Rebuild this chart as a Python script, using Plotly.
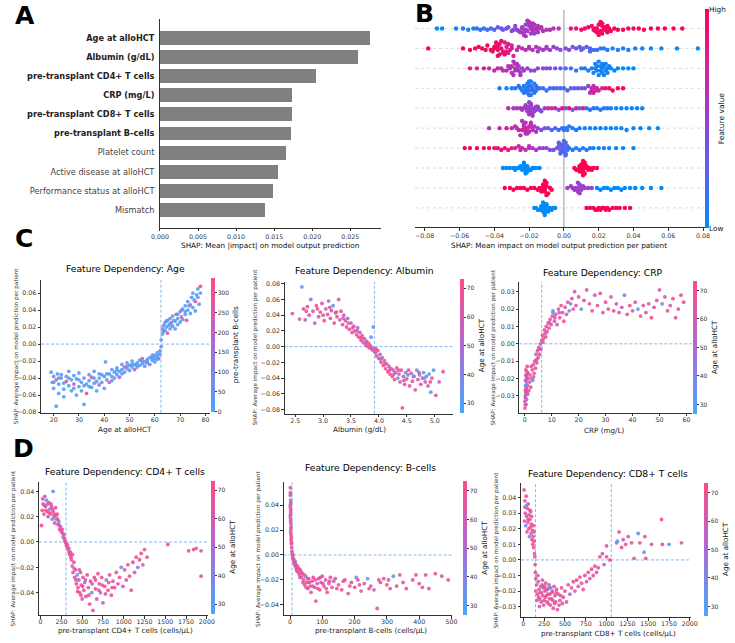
import numpy as np
import plotly.graph_objects as go

# ---------------- DATA ----------------
FEATURES = ["Age at alloHCT", "Albumin (g/dL)", "pre-transplant CD4+ T cells", "CRP (mg/L)",
            "pre-transplant CD8+ T cells", "pre-transplant B-cells", "Platelet count",
            "Active disease at alloHCT", "Performance status at alloHCT", "Mismatch"]
BOLD = [True, True, True, True, True, True, False, False, False, False]
MEAN_ABS_SHAP = [0.0276, 0.0260, 0.0205, 0.0174, 0.0173, 0.0172, 0.0166, 0.0155, 0.0149, 0.0138]

# beeswarm (shap value, normalised feature value)
SW_AGE = [(-0.073,0.02),(-0.070,0.03),(-0.062,0.05),(-0.058,0.08),(-0.055,0.05),(-0.052,0.1),(-0.050,0.12),(-0.048,0.15),(-0.046,0.1),(-0.044,0.2),(-0.042,0.25),(-0.040,0.18),(-0.038,0.3),(-0.036,0.35),(-0.035,0.25),(-0.033,0.4),(-0.032,0.3),(-0.030,0.45),(-0.029,0.4),(-0.028,0.5),(-0.027,0.45),(-0.026,0.5),(-0.025,0.55),(-0.024,0.5),(-0.023,0.6),(-0.022,0.55),(-0.022,0.45),(-0.021,0.6),(-0.020,0.55),(-0.020,0.65),(-0.019,0.6),(-0.019,0.5),(-0.018,0.62),(-0.018,0.55),(-0.017,0.6),(-0.016,0.58),(-0.015,0.6),(-0.014,0.55),(-0.013,0.62),(-0.012,0.6),(-0.010,0.58),(-0.008,0.6),(-0.006,0.62),(-0.003,0.6),
          (0.004,0.85),(0.007,0.88),(0.010,0.9),(0.012,0.9),(0.014,0.92),(0.016,0.9),(0.017,0.93),(0.018,0.92),(0.019,0.95),(0.020,0.93),(0.021,0.95),(0.022,0.94),(0.022,0.96),(0.023,0.95),(0.024,0.96),(0.025,0.95),(0.026,0.97),(0.027,0.96),(0.029,0.97),(0.031,0.97),(0.034,0.98),(0.037,0.98),(0.040,0.98),(0.043,0.99),(0.046,0.99),(0.050,0.99),(0.054,1.0),(0.058,1.0),(0.063,1.0),(0.068,1.0),
          (-0.024,0.55),(-0.023,0.5),(-0.022,0.6),(-0.021,0.55),(-0.020,0.6),(-0.019,0.55),(-0.018,0.6),(-0.017,0.5),(-0.016,0.62),(-0.015,0.55),(0.018,0.95),(0.019,0.93),(0.020,0.96),(0.021,0.94),(0.022,0.95),(0.023,0.97),(0.024,0.94),(0.025,0.96)]
SW_ALB = [(-0.078,1.0),(-0.058,1.0),(-0.054,0.98),(-0.051,0.98),(-0.049,0.97),(-0.047,0.97),(-0.045,0.96),(-0.044,0.95),(-0.042,0.95),(-0.041,0.93),(-0.040,0.92),(-0.039,0.93),(-0.038,0.9),(-0.038,0.92),(-0.037,0.9),(-0.036,0.88),(-0.035,0.85),(-0.034,0.86),(-0.033,0.8),(-0.032,0.82),(-0.031,0.78),(-0.030,0.75),(-0.029,0.72),(-0.027,0.7),(-0.026,0.68),(-0.024,0.65),(-0.022,0.62),(-0.020,0.6),(-0.018,0.6),(-0.016,0.58),(-0.014,0.55),(-0.012,0.55),(-0.010,0.52),(-0.008,0.5),(-0.006,0.5),(-0.004,0.48),(-0.002,0.45),(0.001,0.42),(0.003,0.4),(0.005,0.38),(0.007,0.35),(0.009,0.3),(0.011,0.28),(0.013,0.25),(0.015,0.2),(0.017,0.18),(0.019,0.15),(0.021,0.12),(0.023,0.12),(0.025,0.1),(0.028,0.08),(0.031,0.08),(0.034,0.06),(0.037,0.05),(0.041,0.05),(0.045,0.04),(0.050,0.03),(0.056,0.02),(0.065,0.01),(0.077,0.0),
          (-0.040,0.95),(-0.039,0.9),(-0.038,0.93),(-0.037,0.92),(-0.036,0.9),(-0.035,0.88),(-0.034,0.9),(-0.033,0.85),(-0.032,0.8),(-0.030,0.78),(-0.020,0.62),(-0.015,0.58),(-0.010,0.55),(0.010,0.3),(0.015,0.2)]
SW_CD4 = [(-0.054,0.8),(-0.050,0.75),(-0.046,0.8),(-0.043,0.7),(-0.040,0.72),(-0.038,0.7),(-0.036,0.65),(-0.035,0.68),(-0.033,0.62),(-0.032,0.65),(-0.031,0.6),(-0.030,0.62),(-0.029,0.58),(-0.028,0.6),(-0.028,0.55),(-0.027,0.58),(-0.026,0.55),(-0.025,0.55),(-0.024,0.5),(-0.023,0.52),(-0.021,0.5),(-0.019,0.45),(-0.017,0.48),(-0.015,0.42),(-0.012,0.45),(-0.010,0.4),(-0.008,0.42),(-0.005,0.35),(-0.002,0.3),(0.001,0.25),(0.004,0.2),(0.007,0.15),(0.010,0.12),(0.012,0.1),(0.014,0.08),(0.016,0.06),(0.017,0.05),(0.018,0.06),(0.019,0.05),(0.020,0.04),(0.021,0.05),(0.022,0.03),(0.022,0.04),(0.023,0.03),(0.024,0.04),(0.025,0.03),(0.026,0.02),(0.027,0.03),(0.029,0.02),(0.031,0.02),(0.034,0.01),(0.037,0.01),(0.040,0.0),
          (-0.030,0.6),(-0.029,0.62),(-0.028,0.58),(-0.027,0.6),(-0.026,0.55),(-0.025,0.6),(0.018,0.05),(0.019,0.04),(0.020,0.05),(0.021,0.03),(0.022,0.05),(0.023,0.04),(0.024,0.03),(0.025,0.05)]
SW_CRP = [(-0.037,0.05),(-0.033,0.06),(-0.030,0.08),(-0.028,0.1),(-0.026,0.08),(-0.025,0.1),(-0.024,0.12),(-0.023,0.1),(-0.022,0.12),(-0.021,0.1),(-0.021,0.15),(-0.020,0.12),(-0.020,0.1),(-0.019,0.14),(-0.019,0.1),(-0.018,0.12),(-0.017,0.15),(-0.016,0.12),(-0.015,0.15),(-0.014,0.18),(-0.012,0.15),(-0.010,0.2),(-0.008,0.18),(-0.006,0.2),(-0.004,0.22),(-0.002,0.2),(0.000,0.22),(0.002,0.25),(0.004,0.25),(0.006,0.28),(0.008,0.3),(0.010,0.35),(0.012,0.4),(0.014,0.5),(0.015,0.55),(0.016,0.6),(0.017,0.62),(0.018,0.7),(0.019,0.75),(0.020,0.7),(0.022,0.8),(0.024,0.85),(0.026,0.9),(0.028,0.95),(0.031,0.98),(0.034,1.0),
          (-0.023,0.1),(-0.022,0.08),(-0.021,0.12),(-0.020,0.1),(-0.020,0.14),(-0.019,0.1),(-0.018,0.12),(-0.017,0.1),(-0.016,0.14),(0.016,0.75),(0.017,0.8),(0.018,0.65)]
SW_CD8 = [(-0.032,0.6),(-0.029,0.55),(-0.027,0.6),(-0.025,0.55),(-0.024,0.5),(-0.023,0.55),(-0.022,0.5),(-0.021,0.45),(-0.020,0.5),(-0.020,0.55),(-0.019,0.45),(-0.019,0.5),(-0.018,0.45),(-0.017,0.5),(-0.016,0.45),(-0.015,0.4),(-0.014,0.45),(-0.013,0.4),(-0.011,0.5),(-0.009,0.7),(-0.007,0.6),(-0.005,0.8),(-0.003,0.4),(-0.001,0.85),(0.001,0.3),(0.003,0.9),(0.005,0.35),(0.007,0.8),(0.009,0.25),(0.011,0.85),(0.013,0.2),(0.015,0.15),(0.017,0.1),(0.019,0.12),(0.021,0.1),(0.023,0.08),(0.025,0.06),(0.027,0.05),(0.030,0.05),(0.033,0.04),(0.036,0.03),(0.039,0.02),(0.042,0.02),(0.045,0.01),
          (-0.022,0.5),(-0.021,0.55),(-0.020,0.45),(-0.019,0.5),(-0.018,0.55),(-0.017,0.45),(-0.016,0.5),(-0.015,0.5),(-0.020,0.48),(-0.019,0.52)]
SW_BC = [(-0.043,0.6),(-0.037,0.7),(-0.033,0.8),(-0.030,0.6),(-0.028,0.75),(-0.027,0.55),(-0.026,0.7),(-0.025,0.6),(-0.024,0.8),(-0.023,0.55),(-0.022,0.65),(-0.022,0.75),(-0.021,0.6),(-0.020,0.7),(-0.019,0.55),(-0.018,0.65),(-0.017,0.5),(-0.016,0.6),(-0.015,0.45),(-0.013,0.4),(-0.011,0.35),(-0.009,0.3),(-0.007,0.25),(-0.005,0.2),(-0.003,0.18),(-0.001,0.15),(0.001,0.12),(0.003,0.1),(0.005,0.1),(0.007,0.08),(0.009,0.06),(0.012,0.05),(0.015,0.05),(0.018,0.04),(0.021,0.04),(0.024,0.03),(0.027,0.03),(0.030,0.02),(0.033,0.02),(0.036,0.02),(0.040,0.01),(0.044,0.01),(0.049,0.0),(0.054,0.0),
         (-0.024,0.65),(-0.023,0.7),(-0.022,0.6),(-0.021,0.75),(-0.020,0.65),(-0.019,0.7),(-0.018,0.6),(-0.022,0.55),(-0.021,0.68),(0.000,0.15),(0.002,0.12)]
SW_PLT = [(-0.057,1.0),(-0.054,0.98),(-0.050,0.97),(-0.046,0.95),(-0.043,0.95),(-0.040,0.92),(-0.038,0.9),(-0.036,0.9),(-0.034,0.88),(-0.032,0.85),(-0.030,0.8),(-0.028,0.75),(-0.026,0.72),(-0.024,0.7),(-0.022,0.65),(-0.020,0.62),(-0.018,0.6),(-0.016,0.55),(-0.014,0.52),(-0.012,0.5),(-0.010,0.45),(-0.008,0.4),(-0.006,0.38),(-0.004,0.35),(-0.003,0.3),(-0.002,0.28),(-0.001,0.25),(0.000,0.22),(0.000,0.2),(0.001,0.18),(0.002,0.15),(0.003,0.15),(0.005,0.12),(0.007,0.1),(0.009,0.1),(0.011,0.08),(0.013,0.08),(0.015,0.06),(0.017,0.05),(0.020,0.05),(0.023,0.04),(0.026,0.03),(0.030,0.02),(0.034,0.01),(0.040,0.0),
          (-0.003,0.25),(-0.002,0.3),(-0.001,0.22),(0.000,0.25),(0.001,0.2),(0.002,0.18),(-0.002,0.2),(0.000,0.28),(0.001,0.22),(-0.020,0.6),(-0.025,0.7)]
SW_ACT = [(-0.035,0),(-0.033,0),(-0.031,0),(-0.029,0),(-0.028,0),(-0.027,0),(-0.026,0),(-0.025,0),(-0.024,0),(-0.024,0),(-0.023,0),(-0.023,0),(-0.022,0),(-0.022,0),(-0.021,0),(-0.021,0),(-0.020,0),(-0.019,0),(-0.018,0),(-0.017,0),(-0.016,0),(-0.014,0),(-0.023,0),(-0.022,0),(-0.021,0),(-0.022,0),
          (0.006,1),(0.007,1),(0.008,1),(0.009,1),(0.009,1),(0.010,1),(0.010,1),(0.010,1),(0.011,1),(0.011,1),(0.011,1),(0.012,1),(0.012,1),(0.013,1),(0.013,1),(0.014,1),(0.015,1),(0.016,1),(0.017,1),(0.019,1),(0.010,1),(0.011,1),(0.012,1),(0.010,1),(0.011,1),(0.009,1),(0.012,1)]
SW_PERF = [(-0.034,1),(-0.031,1),(-0.029,1),(-0.027,1),(-0.025,1),(-0.023,1),(-0.021,1),(-0.019,1),(-0.017,1),(-0.015,1),(-0.014,1),(-0.013,1),(-0.012,1),(-0.012,1),(-0.011,1),(-0.011,1),(-0.011,1),(-0.010,1),(-0.010,1),(-0.009,1),(-0.008,1),(-0.007,1),(-0.011,1),(-0.012,1),(-0.010,1),(-0.011,1),
           (0.002,0.5),(0.004,0.5),(0.005,0.5),(0.006,0.5),(0.007,0.5),(0.008,0.5),(0.008,0.5),(0.009,0.5),(0.009,0.5),(0.010,0.5),(0.011,0.5),(0.012,0.5),(0.014,0.5),(0.016,0.5),(0.008,0.5),(0.009,0.5),
           (0.019,0),(0.021,0),(0.023,0),(0.025,0),(0.027,0),(0.029,0),(0.031,0),(0.033,0),(0.035,0),(0.038,0),(0.041,0),(0.045,0),(0.050,0),(0.056,0)]
SW_MM = [(-0.017,0),(-0.016,0),(-0.015,0),(-0.014,0),(-0.013,0),(-0.013,0),(-0.012,0),(-0.012,0),(-0.011,0),(-0.011,0),(-0.011,0),(-0.010,0),(-0.010,0),(-0.009,0),(-0.009,0),(-0.008,0),(-0.007,0),(-0.006,0),(-0.005,0),(-0.011,0),(-0.012,0),(-0.010,0),(-0.011,0),
         (0.013,1),(0.015,1),(0.017,1),(0.018,1),(0.019,1),(0.020,1),(0.021,1),(0.022,1),(0.023,1),(0.024,1),(0.025,1),(0.026,1),(0.028,1),(0.030,1),(0.032,1),(0.035,1),(0.038,1)]
SWARMS = [SW_AGE, SW_ALB, SW_CD4, SW_CRP, SW_CD8, SW_BC, SW_PLT, SW_ACT, SW_PERF, SW_MM]

# dependence plots (feature value, shap value, colour feature)
DEP_AGE = [(19,-0.033,20),(19.5,-0.045,40),(20,-0.052,10),(20,-0.038,60),(21,-0.073,15),(21,-0.042,280),(21.5,-0.035,30),(22,-0.047,50),(22,-0.058,20),(23,-0.040,10),(23,-0.036,90),(24,-0.053,30),(24,-0.062,20),(25,-0.044,300),(25,-0.038,40),(26,-0.049,20),(26,-0.032,70),(27,-0.042,15),(27,-0.055,40),(28,-0.037,25),(28,-0.047,260),(29,-0.041,60),(29,-0.060,30),(30,-0.050,10),(30,-0.034,45),(31,-0.045,20),(31,-0.055,35),(32,-0.071,20),(32,-0.040,80),(33,-0.047,30),(33,-0.058,290),(34,-0.043,25),(34,-0.036,50),(35,-0.051,10),(35,-0.039,300),(36,-0.046,40),(36,-0.032,20),(37,-0.044,60),(37,-0.055,30),(38,-0.040,15),(38,-0.048,120),(39,-0.036,35),(39,-0.045,50),(40,-0.052,20),(40,-0.038,70),(40.5,-0.021,30),(41,-0.042,25),(42,-0.035,45),(42,-0.045,270),(43,-0.038,20),(43,-0.030,60),(44,-0.040,30),(44,-0.033,15),(45,-0.036,80),(45,-0.028,25),(46,-0.032,40),(46,-0.039,150),(47,-0.030,20),(47,-0.024,35),(48,-0.033,60),(48,-0.027,290),(49,-0.029,30),(49,-0.022,50),(50,-0.031,20),(50,-0.025,100),(51,-0.027,40),(51,-0.020,25),(52,-0.024,15),(52,-0.030,280),(53,-0.022,35),(53,-0.027,55),(54,-0.019,20),(54,-0.025,70),(55,-0.023,30),(55,-0.017,240),(56,-0.021,45),(56,-0.026,15),(57,-0.018,25),(57,-0.022,300),(58,-0.016,40),(58,-0.024,60),(59,-0.019,20),(59,-0.013,35),(60,-0.017,80),(60,-0.021,30),(61,-0.014,50),(61,-0.010,20),(61.5,-0.017,310),(62,-0.008,40),(62,-0.012,25),(62.5,-0.003,60),(62.5,0.005,30),(63,0.012,20),(63,0.018,250),(63.5,0.022,40),(64,0.016,30),(64,0.025,60),(64.5,0.020,15),(65,0.028,35),(65,0.013,290),(65.5,0.022,50),(66,0.018,20),(66,0.030,40),(66.5,0.025,270),(67,0.021,30),(67,0.033,60),(68,0.027,25),(68,0.018,45),(68.5,0.035,300),(69,0.030,20),(69,0.023,50),(70,0.038,35),(70,0.026,15),(70.5,0.032,280),(71,0.041,40),(71,0.029,20),(72,0.035,60),(72,0.045,25),(72.5,0.028,310),(73,0.040,30),(73,0.050,45),(74,0.036,20),(74,0.046,250),(74.5,0.055,35),(75,0.043,30),(75,0.060,40),(76,0.050,300),(76,0.039,20),(77,0.055,50),(77,0.065,30),(77.5,0.047,25),(78,0.068,320),(78,0.060,35),
           (20,-0.045,20),(22,-0.040,30),(24,-0.046,15),(26,-0.040,25),(28,-0.052,30),(30,-0.042,20),(32,-0.049,35),(34,-0.050,20),(36,-0.040,15),(38,-0.035,25),(41,-0.035,40),(43,-0.043,20),(45,-0.031,30),(47,-0.035,25),(49,-0.026,40),(51,-0.024,30),(53,-0.025,20),(55,-0.020,35),(57,-0.020,25),(59,-0.016,30),(60,-0.013,40),(61,-0.018,20),(63.5,0.015,30),(64.5,0.027,25),(66,0.024,35),(67.5,0.028,20),(69,0.035,30),(70.5,0.040,45),(72,0.038,25),(73.5,0.045,30),(75.5,0.052,20),(76.5,0.058,40)]
DEP_ALB = [(2.45,0.042,65),(2.58,0.035,60),(2.62,0.076,30),(2.65,0.048,68),(2.68,0.034,55),(2.72,0.051,70),(2.75,0.040,62),(2.78,0.060,45),(2.82,0.045,66),(2.85,0.030,58),(2.88,0.052,72),(2.92,0.038,60),(2.95,0.044,68),(2.98,0.055,63),(3.02,0.033,70),(3.05,0.048,55),(3.08,0.041,66),(3.10,0.058,50),(3.13,0.036,69),(3.15,0.046,61),(3.18,0.052,35),(3.20,0.030,67),(3.22,0.043,64),(3.25,0.038,70),(3.28,0.060,65),(3.30,0.034,58),(3.32,0.045,71),(3.35,0.028,63),(3.37,0.040,55),(3.40,0.033,68),(3.42,0.025,66),(3.44,0.036,45),(3.47,0.022,70),(3.50,0.030,62),(3.52,0.018,67),(3.55,0.026,58),(3.57,0.020,72),(3.60,0.015,64),(3.62,0.024,50),(3.64,0.012,69),(3.66,0.018,61),(3.68,0.008,66),(3.70,0.014,70),(3.72,0.005,57),(3.74,0.010,63),(3.76,0.002,68),(3.78,0.007,40),(3.80,0.000,65),(3.82,0.004,71),(3.84,-0.002,60),(3.86,0.012,35),(3.88,-0.004,67),(3.90,0.025,33),(3.90,-0.002,62),(3.92,-0.006,69),(3.94,-0.008,55),(3.96,-0.012,66),(3.98,-0.005,70),(4.00,-0.015,64),(4.02,-0.010,58),(4.04,-0.020,68),(4.06,-0.014,45),(4.08,-0.024,71),(4.10,-0.018,62),(4.12,-0.028,66),(4.14,-0.022,38),(4.16,-0.032,70),(4.18,-0.025,60),(4.20,-0.035,67),(4.22,-0.028,55),(4.24,-0.038,69),(4.26,-0.030,63),(4.28,-0.042,72),(4.30,-0.033,50),(4.32,-0.027,66),(4.34,-0.040,35),(4.36,-0.035,68),(4.38,-0.045,61),(4.40,-0.030,70),(4.42,-0.078,67),(4.44,-0.038,57),(4.46,-0.048,64),(4.48,-0.033,42),(4.50,-0.041,69),(4.52,-0.036,31),(4.55,-0.050,66),(4.58,-0.034,60),(4.60,-0.044,71),(4.63,-0.038,48),(4.65,-0.055,65),(4.68,-0.030,37),(4.70,-0.042,68),(4.73,-0.036,30),(4.75,-0.048,63),(4.78,-0.040,70),(4.80,-0.033,32),(4.83,-0.045,58),(4.85,-0.038,29),(4.88,-0.050,66),(4.90,-0.035,33),(4.93,-0.058,31),(4.95,-0.040,67),(4.98,-0.030,30),(5.02,-0.062,69),(5.08,-0.045,55),(5.15,-0.032,72),
           (2.70,0.045,66),(2.90,0.048,62),(3.00,0.040,70),(3.12,0.050,64),(3.24,0.044,68),(3.36,0.036,66),(3.45,0.030,64),(3.53,0.024,68),(3.61,0.020,62),(3.69,0.011,67),(3.77,0.005,70),(3.85,0.001,64),(3.95,-0.003,66),(4.03,-0.016,62),(4.11,-0.022,68),(4.19,-0.030,65),(4.27,-0.035,69),(4.35,-0.030,62),(4.45,-0.043,66),(4.53,-0.030,68),(4.62,-0.038,40),(4.72,-0.033,64),(4.82,-0.040,35),(4.92,-0.045,66)]
DEP_CRP = [(0.1,-0.037,65),(0.1,-0.033,70),(0.2,-0.030,45),(0.2,-0.027,68),(0.3,-0.024,35),(0.3,-0.021,60),(0.4,-0.018,40),(0.4,-0.015,66),(0.5,-0.035,62),(0.5,-0.029,30),(0.6,-0.026,71),(0.6,-0.022,50),(0.7,-0.019,64),(0.7,-0.032,38),(0.8,-0.016,69),(0.8,-0.028,55),(0.9,-0.013,67),(1.0,-0.024,70),(1.2,-0.020,63),(1.5,-0.027,66),(1.8,-0.022,58),(2.0,-0.018,69),(2.2,-0.025,72),(2.5,-0.020,61),(2.8,-0.015,67),(3.0,-0.021,34),(3.2,-0.012,65),(3.5,-0.017,70),(3.7,-0.010,60),(4.0,-0.014,68),(4.2,-0.006,55),(4.5,-0.011,66),(4.7,-0.004,71),(5.0,-0.008,63),(5.2,-0.002,59),(5.5,-0.006,69),(5.8,0.000,64),(6.0,-0.003,40),(6.3,0.002,67),(6.6,0.005,70),(7.0,0.003,62),(7.3,0.008,66),(7.6,0.006,58),(8.0,0.010,69),(8.3,0.007,72),(8.7,0.012,61),(9.0,0.009,65),(9.4,0.014,68),(9.8,0.011,55),(10.2,0.016,63),(10.5,0.019,32),(10.5,0.018,30),(11.0,0.013,70),(11.5,0.017,66),(12.0,0.011,60),(12.5,0.020,69),(13.0,0.015,64),(13.5,0.022,67),(14.0,0.018,58),(14.5,0.013,71),(15.0,0.021,65),(15.5,0.017,62),(16.0,0.024,68),(16.5,0.019,36),(17.0,0.023,30),(17.5,0.026,66),(18.0,0.020,70),(18.5,0.030,60),(19.0,0.022,64),(20.0,0.027,67),(21.0,0.020,33),(22.0,0.025,69),(23.0,0.031,62),(24.0,0.023,66),(25.0,0.019,71),(26.0,0.028,58),(27.0,0.022,65),(28.0,0.029,68),(29.0,0.018,63),(30.0,0.024,67),(31.0,0.020,70),(32.0,0.027,60),(33.0,0.019,66),(34.0,0.023,64),(35.0,0.018,69),(36.0,0.021,57),(37.0,0.028,48),(38.0,0.017,65),(39.0,0.022,70),(40.0,0.019,67),(41.0,0.024,62),(42.0,0.020,32),(43.0,0.016,66),(44.0,0.022,60),(45.0,0.018,68),(46.0,0.023,63),(47.0,0.015,70),(48.0,0.021,64),(49.0,0.025,67),(50.0,0.031,61),(51.0,0.023,40),(52.0,0.027,66),(53.0,0.019,69),(54.0,0.022,63),(55.0,0.026,71),(56.0,0.015,65),(57.0,0.020,62),(58.0,0.028,68),(59.0,0.024,70),
           (0.2,-0.035,66),(0.3,-0.031,62),(0.4,-0.028,68),(0.5,-0.025,64),(0.6,-0.018,69),(0.7,-0.024,35),(0.8,-0.020,66),(1.1,-0.029,63),(1.3,-0.017,67),(2.4,-0.013,68),(3.3,-0.019,62),(4.4,-0.009,70),(5.6,-0.003,66),(6.8,0.001,64),(7.8,0.004,68),(9.2,0.012,62),(11.2,0.015,67),(12.8,0.018,63)]
DEP_CD4 = [(10,0.013,65),(20,0.025,70),(30,0.030,55),(40,0.022,68),(50,0.036,66),(60,0.028,62),(70,0.033,30),(80,0.024,71),(90,0.020,60),(100,0.031,67),(110,0.026,45),(120,0.022,69),(130,0.028,64),(140,0.018,35),(150,0.040,33),(150,0.024,70),(160,0.020,58),(170,0.015,66),(180,0.027,63),(190,0.018,40),(200,0.022,68),(210,0.014,61),(220,0.016,30),(230,0.010,67),(240,0.012,55),(250,0.008,70),(260,0.010,64),(270,0.004,38),(280,0.006,66),(290,0.001,60),(300,0.000,69),(310,-0.003,57),(320,-0.002,65),(330,-0.006,71),(340,-0.005,45),(350,-0.010,67),(360,-0.008,63),(370,-0.014,68),(380,-0.019,60),(390,-0.024,66),(400,-0.016,70),(410,-0.028,62),(420,-0.022,64),(430,-0.033,69),(440,-0.026,35),(450,-0.036,66),(460,-0.030,58),(470,-0.040,70),(480,-0.024,63),(490,-0.034,67),(500,-0.045,65),(510,-0.028,61),(520,-0.038,69),(530,-0.032,40),(545,-0.043,66),(560,-0.026,71),(575,-0.036,62),(590,-0.049,68),(600,-0.031,64),(615,-0.040,36),(630,-0.054,67),(645,-0.028,63),(660,-0.037,70),(675,-0.045,58),(690,-0.025,65),(705,-0.033,69),(720,-0.040,55),(735,-0.028,66),(750,-0.048,62),(770,-0.035,70),(790,-0.030,42),(810,-0.038,68),(830,-0.026,64),(850,-0.042,67),(870,-0.031,60),(890,-0.036,71),(910,-0.024,66),(930,-0.033,63),(950,-0.028,69),(970,-0.020,38),(990,-0.035,65),(1010,-0.022,68),(1030,-0.030,62),(1050,-0.018,70),(1070,-0.027,64),(1090,-0.038,66),(1110,-0.016,67),(1130,-0.024,60),(1150,-0.012,69),(1170,-0.020,45),(1190,-0.014,66),(1210,-0.009,70),(1230,-0.018,63),(1250,-0.006,67),(1280,-0.012,65),(1530,-0.002,69),(1780,-0.007,66),(1840,-0.006,70),(1870,-0.005,63),(1930,-0.007,67),(1930,-0.027,68),
           (25,0.034,64),(45,0.029,66),(65,0.025,68),(85,0.030,62),(105,0.023,70),(125,0.030,66),(145,0.026,63),(165,0.022,69),(185,0.021,65),(205,0.018,67),(225,0.013,60),(245,0.009,66),(265,0.007,68),(285,0.003,64),(305,-0.001,67),(325,-0.004,62),(345,-0.008,69),(365,-0.012,66),(385,-0.010,63),(405,-0.021,67),(425,-0.030,65),(445,-0.039,68),(465,-0.022,62),(485,-0.042,66),(505,-0.035,69),(540,-0.030,63),(580,-0.042,67),(620,-0.033,65),(660,-0.030,70),(700,-0.038,62),(740,-0.034,67),(780,-0.041,64),(820,-0.032,69),(860,-0.036,66)]
DEP_BC = [(1,0.054,70),(1,0.048,66),(2,0.044,35),(1,0.040,68),(2,0.036,62),(1,0.032,69),(2,0.028,65),(3,0.024,40),(2,0.020,67),(3,0.016,63),(3,0.012,70),(4,0.009,66),(5,0.006,60),(6,0.003,68),(7,0.001,45),(8,-0.002,64),(10,-0.004,67),(12,-0.006,70),(14,-0.008,62),(16,-0.005,38),(18,-0.010,66),(20,-0.012,69),(23,-0.009,63),(26,-0.014,67),(29,-0.016,65),(32,-0.012,70),(35,-0.018,60),(38,-0.015,68),(42,-0.020,64),(45,-0.024,66),(48,-0.017,35),(52,-0.022,69),(55,-0.027,63),(58,-0.019,67),(62,-0.025,70),(65,-0.030,62),(68,-0.021,66),(72,-0.018,68),(76,-0.026,64),(80,-0.037,69),(84,-0.023,60),(88,-0.019,67),(92,-0.028,71),(96,-0.022,65),(100,-0.017,63),(105,-0.025,68),(110,-0.020,66),(115,-0.030,70),(120,-0.023,62),(125,-0.018,64),(130,-0.026,67),(135,-0.021,60),(140,-0.019,69),(150,-0.024,65),(160,-0.028,68),(170,-0.020,63),(180,-0.031,66),(190,-0.022,70),(200,-0.026,62),(205,-0.018,34),(210,-0.020,67),(220,-0.029,64),(230,-0.023,69),(240,-0.019,31),(250,-0.025,66),(260,-0.028,60),(270,-0.043,68),(280,-0.022,63),(290,-0.019,70),(300,-0.024,65),(310,-0.027,67),(320,-0.017,32),(330,-0.025,69),(340,-0.016,64),(360,-0.027,66),(380,-0.020,68),(390,-0.016,63),(400,-0.023,70),(410,-0.026,62),(420,-0.016,67),(430,-0.027,65),(450,-0.015,69),(470,-0.017,66),(490,-0.020,70),
          (1,0.050,63),(2,0.042,69),(1,0.038,66),(2,0.034,61),(1,0.030,67),(2,0.026,64),(3,0.022,68),(2,0.018,62),(4,0.014,66),(5,0.010,69),(9,0.000,66),(11,-0.003,63),(15,-0.006,68),(19,-0.008,64),(22,-0.013,66),(27,-0.011,69),(31,-0.018,62),(36,-0.014,67),(40,-0.022,65),(44,-0.016,70),(50,-0.026,63),(54,-0.019,67),(60,-0.022,64),(70,-0.025,68),(78,-0.020,62),(86,-0.027,66),(94,-0.018,69),(102,-0.023,63),(112,-0.027,67),(122,-0.021,65),(145,-0.027,68),(165,-0.021,64),(185,-0.025,66),(215,-0.024,62),(245,-0.027,67),(275,-0.020,69),(305,-0.020,64),(350,-0.022,66)]
DEP_CD8 = [(10,0.045,68),(15,0.025,66),(20,0.034,70),(25,0.030,62),(30,0.022,35),(35,0.041,67),(40,0.028,64),(45,0.018,69),(50,0.033,60),(55,0.024,66),(60,0.036,70),(65,0.020,63),(70,0.029,67),(75,0.015,40),(80,0.026,65),(85,0.021,68),(90,0.031,62),(95,0.017,66),(100,0.023,70),(105,0.013,64),(110,0.019,67),(115,0.010,69),(120,0.015,63),(125,0.008,66),(130,0.012,70),(135,0.004,65),(140,0.002,60),(142,-0.003,67),(145,-0.008,69),(150,-0.012,64),(160,-0.016,66),(170,-0.022,70),(180,-0.014,62),(190,-0.019,67),(200,-0.025,65),(210,-0.017,35),(220,-0.021,68),(230,-0.013,63),(240,-0.018,66),(250,-0.026,70),(260,-0.020,64),(270,-0.015,67),(280,-0.023,62),(290,-0.019,69),(300,-0.028,66),(310,-0.016,65),(320,-0.022,70),(330,-0.018,40),(340,-0.025,63),(350,-0.020,67),(360,-0.031,68),(370,-0.017,64),(380,-0.023,66),(390,-0.027,70),(400,-0.019,62),(410,-0.032,67),(420,-0.022,65),(440,-0.026,69),(460,-0.018,63),(480,-0.024,66),(500,-0.020,70),(520,-0.027,64),(540,-0.016,67),(560,-0.022,45),(580,-0.018,66),(600,-0.014,69),(620,-0.020,62),(640,-0.013,67),(660,-0.017,65),(680,-0.011,70),(700,-0.015,63),(720,-0.019,66),(740,-0.010,68),(760,-0.014,64),(780,-0.008,67),(800,-0.012,62),(820,-0.006,69),(840,-0.010,66),(860,-0.004,70),(880,-0.008,65),(900,-0.005,63),(920,0.002,67),(950,0.004,68),(970,-0.003,64),(1000,0.002,66),(1040,0.000,70),(1000,0.009,62),(1120,0.011,67),(1130,0.012,30),(1150,0.018,69),(1180,0.008,65),(1200,0.013,66),(1230,0.010,70),(1260,0.015,64),(1300,0.011,67),(1330,0.001,63),(1380,0.017,33),(1400,0.011,66),(1450,0.005,35),(1460,0.015,68),(1470,0.001,64),(1540,0.010,66),(1660,0.026,67),(1670,0.010,70),(1750,0.010,30),(1900,0.011,65),
           (150,-0.020,66),(165,-0.026,68),(175,-0.010,62),(185,-0.024,70),(195,-0.030,64),(205,-0.021,67),(215,-0.027,63),(225,-0.016,69),(235,-0.023,65),(245,-0.029,66),(255,-0.017,62),(265,-0.024,70),(275,-0.019,64),(285,-0.027,67),(295,-0.022,68),(305,-0.018,33),(315,-0.025,66),(325,-0.029,69),(345,-0.021,63),(355,-0.026,67),(375,-0.028,62),(395,-0.021,70),(430,-0.029,65),(450,-0.023,66),(470,-0.028,68),(20,0.038,64),(40,0.035,30),(60,0.026,66),(80,0.032,69),(100,0.028,63),(120,0.022,67),(130,0.018,62)]

# thresholds drawn as dashed vertical lines
THRESH_AGE = [62.4]
THRESH_ALB = [3.92]
THRESH_CRP = [6.3]
THRESH_CD4 = [306]
THRESH_BC = [6]
THRESH_CD8 = [148, 1057]

# ---------------- LAYOUT HELPERS ----------------
W, H = 735, 643
FONT = "DejaVu Sans"
def X(p): return p / W
def Y(p): return 1 - p / H
def xdom(a, b): return [a / W, b / W]
def ydom(t, b): return [1 - b / H, 1 - t / H]
def mfmt(v, d): return (f"{v:.{d}f}").replace("-", "\u2212")

SHAP_CS = [[0, "#008bfb"], [0.25, "#5a62ee"], [0.5, "#9a3fce"], [0.75, "#d5249a"], [1, "#ff0052"]]
DEP_CS = [[0, "#45a8fb"], [0.5, "#ae6ad6"], [1, "#ff4a84"]]

def swarm_offsets(vals, nbins=30, row_h=0.5):
    # shap-style beeswarm stacking; within a bin, points are taken in a fixed scrambled order
    v = np.asarray(vals, float)
    q = np.round(nbins * (v - v.min()) / (v.max() - v.min() + 1e-8))
    scramble = (np.arange(len(v)) * 7919) % 101
    order = np.lexsort((scramble, q))
    ys = np.zeros(len(v)); layer = 0; last = None
    for i in order:
        if q[i] != last:
            layer = 0
        ys[i] = np.ceil(layer / 2) * ((layer % 2) * 2 - 1)
        layer += 1; last = q[i]
    ys *= 0.9 * (row_h / np.max(ys + 1))
    return ys

fig = go.Figure()

# ---- Panel A ----
fig.add_trace(go.Bar(x=MEAN_ABS_SHAP, y=list(range(len(FEATURES))), orientation="h",
                     marker=dict(color="#808080", line=dict(width=0)), width=0.72,
                     xaxis="x", yaxis="y", hoverinfo="skip"))

# ---- Panel B ----
for i, sw in enumerate(SWARMS):
    xs = [p[0] for p in sw]; cs = [p[1] for p in sw]
    off = swarm_offsets(xs)
    fig.add_trace(go.Scatter(x=xs, y=i + off, mode="markers", xaxis="x2", yaxis="y2",
                             marker=dict(size=4.4, color=cs, coloraxis="coloraxis", line=dict(width=0)),
                             hoverinfo="skip"))

# ---- Panels C / D ----
DEPS = [DEP_AGE, DEP_ALB, DEP_CRP, DEP_CD4, DEP_BC, DEP_CD8]
for k, d in enumerate(DEPS):
    n = k + 3
    fig.add_trace(go.Scatter(x=[p[0] for p in d], y=[p[1] for p in d], mode="markers",
                             xaxis=f"x{n}", yaxis=f"y{n}",
                             marker=dict(size=3.8, color=[p[2] for p in d], coloraxis=f"coloraxis{k+2}",
                                         opacity=0.9, line=dict(width=0)),
                             hoverinfo="skip"))

tickfont_s = dict(family=FONT, size=6.3, color="#333")
def ax(dom, rng, tv, tt, **kw):
    d = dict(domain=dom, range=rng, tickvals=tv, ticktext=tt, showgrid=False, zeroline=False,
             showline=True, linecolor="#333", linewidth=0.8, ticks="outside", ticklen=2.5,
             tickwidth=0.8, tickcolor="#333", tickfont=tickfont_s, fixedrange=True)
    d.update(kw)
    return d

lay = {}
# A axes
a_tv = [0, 0.005, 0.01, 0.015, 0.02, 0.025]
lay["xaxis"] = ax(xdom(154.3, 380), [0, 0.0290], a_tv, [mfmt(v, 3) for v in a_tv], anchor="y")
a_tt = [(f"<b>{f}</b>" if b else f"<span style='color:#444'>{f}</span>") for f, b in zip(FEATURES, BOLD)]
lay["yaxis"] = dict(domain=ydom(17, 227.7), range=[9.94, -0.98], tickvals=list(range(10)), ticktext=a_tt,
                    showline=True, linecolor="#333", linewidth=0.8, ticks="", showgrid=False, zeroline=False,
                    tickfont=dict(family=FONT, size=8.2, color="#222"), anchor="x", fixedrange=True,
                    ticklabelstandoff=3)
# B axes
b_tv = [-0.08, -0.06, -0.04, -0.02, 0, 0.02, 0.04, 0.06, 0.08]
lay["xaxis2"] = ax(xdom(415, 711), [-0.0856, 0.0808], b_tv, [mfmt(v, 2) for v in b_tv], anchor="y2")
lay["yaxis2"] = dict(domain=ydom(8, 227), range=[9.97, -0.93], showline=False, showticklabels=False,
                     showgrid=False, zeroline=False, ticks="", anchor="x2", fixedrange=True)

def rng_ticks(a, b, s, d):
    vals = [round(a + i * s, 6) for i in range(int(round((b - a) / s)) + 1)]
    return vals, [mfmt(v, d) for v in vals]

SPEC = [
    # xdom, ydom, xrange, yrange, xticks(a,b,s,d), yticks(a,b,s,d)
    ((32.7, 205), (280, 414), [15, 81.6], [-0.0808, 0.0756], (20, 80, 10, 0), (-0.08, 0.06, 0.02, 2)),
    ((281.7, 454), (282, 415), [2.31, 5.33], [-0.0855, 0.0825], (2.5, 5.0, 0.5, 1), (-0.08, 0.08, 0.02, 2)),
    ((521.7, 698), (282, 414), [-2.0, 62.0], [-0.0397, 0.0357], (0, 60, 10, 0), (-0.03, 0.03, 0.01, 2)),
    ((30.7, 203.3), (483.3, 618.3), [-19, 2012], [-0.058, 0.0477], (0, 2000, 250, 0), (-0.04, 0.04, 0.02, 2)),
    ((280.7, 453.3), (483.3, 618.3), [-20, 503], [-0.0486, 0.059], (0, 500, 100, 0), (-0.04, 0.04, 0.02, 2)),
    ((523.3, 696.7), (485, 620), [-28, 2008], [-0.0368, 0.0493], (0, 2000, 250, 0), (-0.03, 0.04, 0.01, 2)),
]
for k, (xd, yd, xr, yr, xt, yt) in enumerate(SPEC):
    n = k + 3
    xv, xtt = rng_ticks(*xt)
    yv, ytt = rng_ticks(*yt)
    lay[f"xaxis{n}"] = ax(xdom(*xd), xr, xv, xtt, anchor=f"y{n}", ticklabelstandoff=-2)
    lay[f"yaxis{n}"] = ax(ydom(*yd), yr, yv, ytt, anchor=f"x{n}")

# colour axes
lay["coloraxis"] = dict(colorscale=SHAP_CS, cmin=0, cmax=1,
                        colorbar=dict(x=X(711.5), xanchor="left", xpad=0, ypad=0, y=Y(117.5), yanchor="middle",
                                      len=219, lenmode="pixels", thickness=4, outlinewidth=0,
                                      showticklabels=False, ticks=""))
CB = [  # x, top, bottom, cmin, cmax, tickvals, title
    (207, 278.3, 412.5, 0, 338, [0, 50, 100, 150, 200, 250, 300], "pre-transplant B-cells"),
    (460.7, 279.5, 413, 26.7, 73.4, [30, 40, 50, 60, 70], "Age at alloHCT"),
    (699.5, 281.7, 414.3, 26.7, 73.4, [30, 40, 50, 60, 70], "Age at alloHCT"),
    (206.7, 482.7, 616, 26.7, 73.4, [30, 40, 50, 60, 70], "Age at alloHCT"),
    (464, 483.3, 617.3, 26.7, 73.4, [30, 40, 50, 60, 70], "Age at alloHCT"),
    (710.7, 485, 618.3, 26.7, 73.4, [30, 40, 50, 60, 70], "Age at alloHCT"),
]
for k, (cx, ct, cbm, c0, c1, tv, tt) in enumerate(CB):
    lay[f"coloraxis{k+2}"] = dict(
        colorscale=DEP_CS, cmin=c0, cmax=c1,
        colorbar=dict(x=X(cx), xanchor="left", xpad=0, ypad=0, y=Y((ct + cbm) / 2), yanchor="middle",
                      len=cbm - ct, lenmode="pixels", thickness=3.5, outlinewidth=0,
                      tickvals=tv, ticks="outside", ticklen=2, tickwidth=0.6, tickcolor="#333",
                      tickfont=dict(family=FONT, size=6, color="#333"),
                      title=dict(text=tt, side="right", font=dict(family=FONT, size=7.2, color="#111"))))

# shapes
shapes = []
for i in range(len(FEATURES)):
    shapes.append(dict(type="line", xref="x2 domain", yref="y2", x0=0, x1=1, y0=i, y1=i,
                       line=dict(color="#cccccc", width=0.7, dash="dot"), layer="below"))
shapes.append(dict(type="line", xref="x2", yref="y2 domain", x0=0, x1=0, y0=0, y1=1,
                   line=dict(color="#999999", width=1), layer="below"))
DASH = dict(color="rgba(100,165,230,0.8)", width=1, dash="3px,2px")
for k, th in enumerate([THRESH_AGE, THRESH_ALB, THRESH_CRP, THRESH_CD4, THRESH_BC, THRESH_CD8]):
    n = k + 3
    shapes.append(dict(type="line", xref=f"x{n} domain", yref=f"y{n}", x0=0, x1=1, y0=0, y1=0, line=DASH, layer="below"))
    for t in th:
        shapes.append(dict(type="line", xref=f"x{n}", yref=f"y{n} domain", x0=t, x1=t, y0=0, y1=1, line=DASH, layer="below"))

# annotations
ann = []
def txt(t, x, y, size, angle=0, color="#111", bold=False, xanchor="center"):
    ann.append(dict(text=(f"<b>{t}</b>" if bold else t), x=X(x), y=Y(y), xref="paper", yref="paper",
                    showarrow=False, xanchor=xanchor, yanchor="middle", textangle=angle,
                    font=dict(family=FONT, size=size, color=color)))

for lab, x, y in [("A", 16, 14), ("B", 425, 12), ("C", 15, 238), ("D", 15, 450)]:
    txt(lab, x, y, 25, bold=True, color="#000")
txt("SHAP: Mean |impact| on model output prediction", 267, 245.5, 7.3)
txt("SHAP: Mean impact on model output prediction per patient", 562, 245.5, 7.3)
txt("High", 724, 8, 7.3)
txt("Low", 723, 228, 7.3)
txt("Feature value", 728, 117, 7.5, angle=-90)

TITLES = [("Feature Dependency: Age", 119, 268.3), ("Feature Dependency: Albumin", 363, 270.7),
          ("Feature Dependency: CRP", 607, 272.3), ("Feature Dependency: CD4+ T cells", 119, 473.3),
          ("Feature Dependency: B-cells", 369.7, 469.3), ("Feature Dependency: CD8+ T cells", 612.5, 475)]
for t, x, y in TITLES:
    txt(t, x, y, 9.2, color="#000")
XT = [("Age at alloHCT", 119, 431), ("Albumin (g/dL)", 358.5, 431), ("CRP (mg/L)", 608.5, 432),
      ("pre-transplant CD4+ T cells (cells/\u00b5L)", 119, 633.5), ("pre-transplant B-cells (cells/\u00b5L)", 370, 633),
      ("pre-transplant CD8+ T cells (cells/\u00b5L)", 613, 636.5)]
for t, x, y in XT:
    txt(t, x, y, 7.2, color="#222")
YL = "SHAP: Average impact on model prediction per patient"
for x, y in [(7, 347), (252, 348.5), (495, 348), (5, 550.8), (255, 550.8), (498, 552.5)]:
    txt(YL, x, y, 5.7, angle=-90, color="#333")

lay.update(dict(width=W, height=H, margin=dict(l=0, r=0, t=0, b=0), autosize=False,
                paper_bgcolor="white", plot_bgcolor="rgba(0,0,0,0)", showlegend=False,
                font=dict(family=FONT), shapes=shapes, annotations=ann, bargap=0))
fig.update_layout(**lay)
fig.write_html("out.html")
